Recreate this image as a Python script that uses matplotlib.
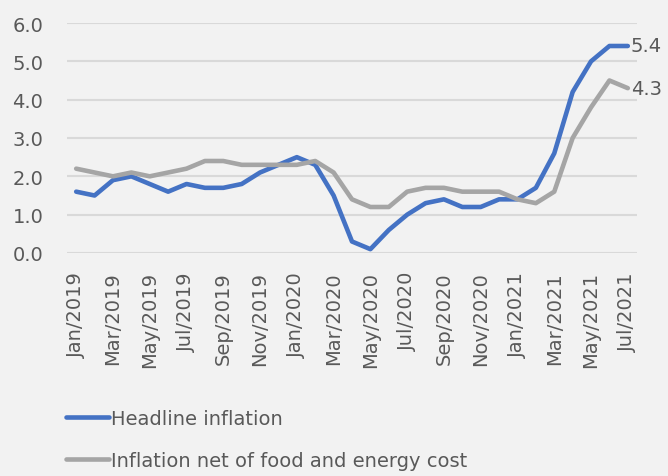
import matplotlib.pyplot as plt

months = ["Jan/2019", "Feb/2019", "Mar/2019", "Apr/2019", "May/2019", "Jun/2019",
          "Jul/2019", "Aug/2019", "Sep/2019", "Oct/2019", "Nov/2019", "Dec/2019",
          "Jan/2020", "Feb/2020", "Mar/2020", "Apr/2020", "May/2020", "Jun/2020",
          "Jul/2020", "Aug/2020", "Sep/2020", "Oct/2020", "Nov/2020", "Dec/2020",
          "Jan/2021", "Feb/2021", "Mar/2021", "Apr/2021", "May/2021", "Jun/2021",
          "Jul/2021"]
headline = [1.6, 1.5, 1.9, 2.0, 1.8, 1.6, 1.8, 1.7, 1.7, 1.8, 2.1, 2.3,
            2.5, 2.3, 1.5, 0.3, 0.1, 0.6, 1.0, 1.3, 1.4, 1.2, 1.2, 1.4,
            1.4, 1.7, 2.6, 4.2, 5.0, 5.4, 5.4]
core = [2.2, 2.1, 2.0, 2.1, 2.0, 2.1, 2.2, 2.4, 2.4, 2.3, 2.3, 2.3,
        2.3, 2.4, 2.1, 1.4, 1.2, 1.2, 1.6, 1.7, 1.7, 1.6, 1.6, 1.6,
        1.4, 1.3, 1.6, 3.0, 3.8, 4.5, 4.3]

plt.rcParams['font.family'] = ['DejaVu Sans']
bg = '#f2f2f2'
txt = '#595959'
blue = '#4472c4'
gray = '#a5a5a5'
fs = 14

fig = plt.figure(figsize=(6.68, 4.77), dpi=100, facecolor=bg)
ax = fig.add_axes([67 / 668, 1 - 254 / 477, 570 / 668, 230 / 477], facecolor=bg)

x = list(range(len(months)))
ax.plot(x, headline, color=blue, lw=3.3, solid_capstyle='round', label='Headline inflation')
ax.plot(x, core, color=gray, lw=3.3, solid_capstyle='round',
        label='Inflation net of food and energy cost')

ax.set_xlim(-0.5, len(months) - 0.5)
ax.set_ylim(0, 6)
ax.set_yticks([0, 1, 2, 3, 4, 5, 6])
ax.set_yticklabels([f"{v:.1f}" for v in range(7)])
ax.set_xticks(x[::2])
ax.set_xticklabels(months[::2], rotation=90)
ax.tick_params(axis='both', length=0, labelsize=fs, labelcolor=txt)
ax.tick_params(axis='y', pad=17)
ax.tick_params(axis='x', pad=13)
ax.grid(axis='y', color='#d9d9d9', lw=1.5)
ax.set_axisbelow(True)
for s in ax.spines.values():
    s.set_visible(False)

ax.annotate(f"{headline[-1]:.1f}", (x[-1], headline[-1]), xytext=(2, 0),
            textcoords='offset points', va='center', ha='left', fontsize=fs,
            color=txt, annotation_clip=False)
ax.annotate(f"{core[-1]:.1f}", (x[-1], core[-1]), xytext=(2, 0),
            textcoords='offset points', va='center', ha='left', fontsize=fs,
            color=txt, annotation_clip=False)

fig.legend(loc='upper left', bbox_to_anchor=(58 / 668, 1 - 402 / 477), frameon=False,
           fontsize=fs, labelcolor=txt, handlelength=2.2, handletextpad=0.15,
           labelspacing=1.2, borderaxespad=0)

fig.savefig("out.png", dpi=100, facecolor=bg)
